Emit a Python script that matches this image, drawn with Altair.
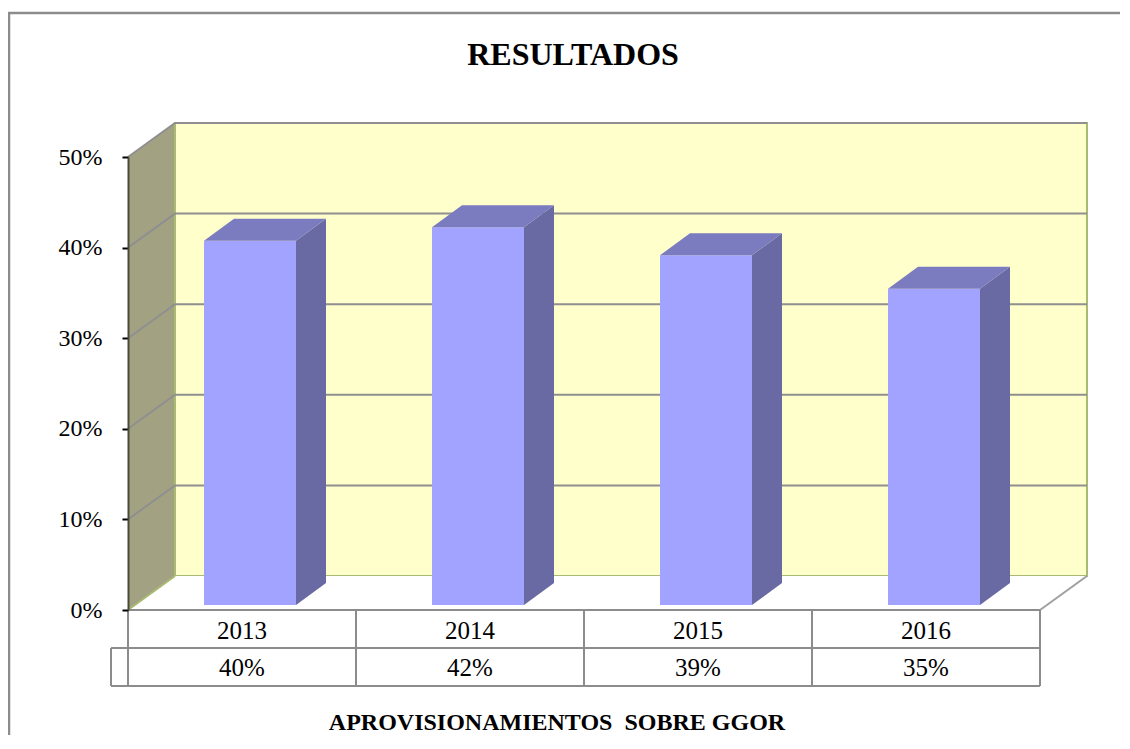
import altair as alt
import pandas as pd

# ---------------- data ----------------
YEARS = ["2013", "2014", "2015", "2016"]
VALUES = [0.402, 0.417, 0.386, 0.349]
VALUE_LABELS = ["40%", "42%", "39%", "35%"]
Y_TICKS = [0.0, 0.1, 0.2, 0.3, 0.4, 0.5]
TITLE = "RESULTADOS"
X_TITLE = "APROVISIONAMIENTOS\u00a0 SOBRE GGOR"

# ---------------- geometry (styles) ----------------
PLOT_W, PLOT_H = 912, 453
N = len(YEARS)
YMAX = 0.5
PX = PLOT_W / N          # pixels per category unit
PY = PLOT_H / YMAX       # pixels per value unit


def dx(p):
    return p / PX


def dy(p):
    return p / PY


WALL_DX, WALL_DY = dx(47), dy(34)
BAR_W = dx(92)
BAR_OX, BAR_OY = dx(8), dy(5)
BAR_DX, BAR_DY = dx(30), dy(22)

FONT = "Liberation Serif"
GRID_C = "#8f8f8f"
EDGE_G = "#a9ba72"
TABLE_C = "#8c8c8c"

XSCALE = alt.Scale(domain=[0, N], nice=False, zero=False)
YSCALE = alt.Scale(domain=[0, YMAX], nice=False, zero=False)
YAXIS = alt.Axis(values=Y_TICKS, format=".0%", labelFont=FONT, labelFontSize=24,
                 labelColor="black", tickSize=6, tickColor="black", tickWidth=2,
                 labelPadding=20, domainColor="#4a4a38", domainWidth=2,
                 grid=False, zindex=1, title=None)


def X(f):
    return alt.X(f"{f}:Q", scale=XSCALE, axis=None, title=None)


def X2(f):
    return alt.X2(f"{f}:Q")


def Y(f):
    return alt.Y(f"{f}:Q", scale=YSCALE, axis=YAXIS, title=None)


def Y2(f):
    return alt.Y2(f"{f}:Q")


# ---------------- tables built from the arrays ----------------
left_wall = pd.DataFrame({"x": [0, WALL_DX], "y": [0, WALL_DY], "y2": [YMAX, YMAX + WALL_DY]})
back_wall = pd.DataFrame({"x": [WALL_DX], "x2": [N + WALL_DX], "y": [WALL_DY], "y2": [YMAX + WALL_DY]})
floor = pd.DataFrame({"y": [0, WALL_DY], "x": [0, WALL_DX], "x2": [N, N + WALL_DX]})

grid_rows = []
for t in Y_TICKS[1:]:
    grid_rows += [
        {"t": t, "k": 0, "x": 0, "y": t},
        {"t": t, "k": 1, "x": WALL_DX, "y": t + WALL_DY},
        {"t": t, "k": 2, "x": N + WALL_DX, "y": t + WALL_DY},
    ]
grid = pd.DataFrame(grid_rows)

edge_right = pd.DataFrame({"x": [N, N + WALL_DX], "y": [0, WALL_DY]})
edge_left = pd.DataFrame({"x": [0, WALL_DX], "y": [0, WALL_DY]})

front, side, top = [], [], []
for i, (yr, v) in enumerate(zip(YEARS, VALUES)):
    xl = i + 0.5 - BAR_W / 2 + BAR_OX
    xr = i + 0.5 + BAR_W / 2 + BAR_OX
    y0 = BAR_OY
    y1 = v + BAR_OY
    front.append({"year": yr, "x": xl, "x2": xr, "y": y0, "y2": y1})
    side += [
        {"year": yr, "x": xr, "y": y1, "y2": y0},
        {"year": yr, "x": xr + BAR_DX, "y": y1 + BAR_DY, "y2": y0 + BAR_DY},
    ]
    top += [
        {"year": yr, "y": y1, "x": xl, "x2": xr},
        {"year": yr, "y": y1 + BAR_DY, "x": xl + BAR_DX, "x2": xr + BAR_DX},
    ]
front = pd.DataFrame(front)
side = pd.DataFrame(side)
top = pd.DataFrame(top)

cells = pd.DataFrame({"x": [i + 0.5 for i in range(N)], "year": YEARS, "lab": VALUE_LABELS})
bounds = pd.DataFrame({"x": list(range(N + 1))})
one = pd.DataFrame({"t": [TITLE], "s": [X_TITLE]})

# ---------------- layers ----------------
L = []
L.append(alt.Chart(left_wall).mark_area(orient="vertical", color="#a2a283")
         .encode(x=X("x"), y=Y("y2"), y2=Y2("y")))
L.append(alt.Chart(back_wall).mark_rect(fill="#ffffcc", stroke=EDGE_G, strokeWidth=2)
         .encode(x=X("x"), x2=X2("x2"), y=Y("y"), y2=Y2("y2")))
L.append(alt.Chart(floor).mark_area(orient="horizontal", color="white")
         .encode(y=Y("y"), x=X("x"), x2=X2("x2")))
L.append(alt.Chart(grid).mark_line(color=GRID_C, strokeWidth=2)
         .encode(x=X("x"), y=Y("y"), detail="t:N", order="k:Q"))
L.append(alt.Chart(edge_right).mark_line(color="#a0a0a0", strokeWidth=2)
         .encode(x=X("x"), y=Y("y")))
L.append(alt.Chart(edge_left).mark_line(color=EDGE_G, strokeWidth=2)
         .encode(x=X("x"), y=Y("y")))

# table
L.append(alt.Chart(one).mark_rule(color=TABLE_C, strokeWidth=2)
         .encode(x=alt.value(0), x2=alt.value(PLOT_W), y=alt.value(PLOT_H), y2=alt.value(PLOT_H)))
L.append(alt.Chart(one).mark_rule(color=TABLE_C, strokeWidth=2)
         .encode(x=alt.value(-17), x2=alt.value(PLOT_W), y=alt.value(PLOT_H + 38), y2=alt.value(PLOT_H + 38)))
L.append(alt.Chart(one).mark_rule(color=TABLE_C, strokeWidth=2)
         .encode(x=alt.value(-17), x2=alt.value(PLOT_W), y=alt.value(PLOT_H + 76), y2=alt.value(PLOT_H + 76)))
L.append(alt.Chart(one).mark_rule(color=TABLE_C, strokeWidth=2)
         .encode(x=alt.value(-17), y=alt.value(PLOT_H + 38), y2=alt.value(PLOT_H + 76)))
L.append(alt.Chart(bounds).mark_rule(color=TABLE_C, strokeWidth=2)
         .encode(x=X("x"), y=alt.value(PLOT_H), y2=alt.value(PLOT_H + 76)))
L.append(alt.Chart(cells).mark_text(font=FONT, fontSize=25, color="black")
         .encode(x=X("x"), y=alt.value(PLOT_H + 21), text="year:N"))
L.append(alt.Chart(cells).mark_text(font=FONT, fontSize=25, color="black")
         .encode(x=X("x"), y=alt.value(PLOT_H + 58), text="lab:N"))

# bars
L.append(alt.Chart(front).mark_rect(color="#a2a2ff")
         .encode(x=X("x"), x2=X2("x2"), y=Y("y"), y2=Y2("y2")))
L.append(alt.Chart(side).mark_area(orient="vertical", color="#6969a3")
         .encode(x=X("x"), y=Y("y"), y2=Y2("y2"), detail="year:N"))
L.append(alt.Chart(top).mark_area(orient="horizontal", color="#7b7bc0")
         .encode(y=Y("y"), x=X("x"), x2=X2("x2"), detail="year:N"))

# outer chart-area border (right and bottom edges fall outside the picture)
L.append(alt.Chart(one).mark_rect(fill="white", fillOpacity=0, stroke="#8c8c8c", strokeWidth=2.5)
         .encode(x=alt.value(-119), x2=alt.value(PLOT_W + 300),
                 y=alt.value(-144), y2=alt.value(PLOT_H + 300)))
L.append(alt.Chart(one).mark_text(font=FONT, fontSize=32, fontWeight="bold", color="black")
         .encode(x=alt.value(445), y=alt.value(-102), text="t:N"))
L.append(alt.Chart(one).mark_text(font=FONT, fontSize=24, fontWeight="bold", color="black")
         .encode(x=alt.value(429), y=alt.value(566), text="s:N"))

chart = alt.layer(*L).properties(
    width=PLOT_W, height=PLOT_H,
    autosize=alt.AutoSizeParams(type="none"),
    padding={"left": 120, "top": 149, "right": 80, "bottom": 125},
    background="white",
).configure_view(stroke=None)

chart.save("out.html", embed_options={"renderer": "svg", "actions": False})
